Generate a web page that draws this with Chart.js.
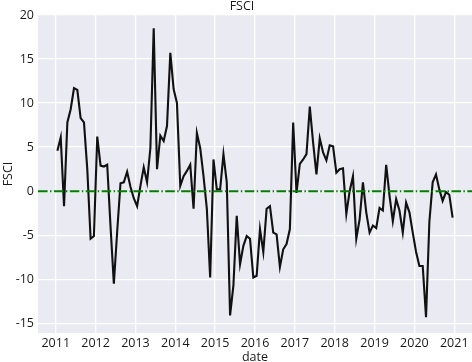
<!DOCTYPE html>
<html>
<head>
<meta charset="utf-8">
<script src="https://cdn.jsdelivr.net/npm/chart.js@4"></script>
<style>
  body { margin: 0; background: #fff; }
  #wrap { width: 472px; height: 362px; }
</style>
</head>
<body>
<div id="wrap"><canvas id="fsciChart" width="472" height="362"></canvas></div>
<script>
// monthly FSCI values, Jan 2011 .. Dec 2020
const fsci = [
  4.6, 6.1, -1.7, 7.8, 9.3, 11.7, 11.5, 8.3, 7.8, 2.5, -5.4, -5.1,
  6.2, 2.9, 2.8, 3.0, -4.0, -10.5, -4.6, 0.9, 1.0, 2.2, 0.5, -0.8,
  -1.7, 0.6, 2.7, 1.0, 4.9, 18.5, 2.5, 6.3, 5.7, 7.4, 15.7, 11.6,
  10.0, 0.6, 1.7, 2.3, 3.0, -2.0, 6.6, 4.9, 1.7, -2.0, -9.8, 3.6,
  0.2, 0.2, 4.2, 1.0, -14.1, -10.7, -2.8, -8.3, -6.2, -5.1, -5.4, -9.8,
  -9.6, -4.3, -6.9, -2.0, -1.7, -4.7, -4.9, -8.6, -6.6, -6.0, -4.3, 7.8,
  -0.2, 3.1, 3.6, 4.2, 9.6, 5.5, 1.9, 6.0, 4.4, 3.5, 5.2, 5.1,
  2.1, 2.5, 2.6, -2.6, 0.0, 1.7, -5.4, -3.2, 1.0, -2.4, -4.7, -3.9,
  -4.2, -1.9, -2.2, 3.0, -0.5, -3.4, -0.9, -2.2, -4.7, -1.3, -2.4, -4.7,
  -6.9, -8.5, -8.5, -14.3, -3.5, 1.0, 1.9, 0.2, -1.1, -0.1, -0.4, -3.0
];
const startYear = 2011;
// mid-month dates as decimal years
const dates = fsci.map((v, i) => startYear + (i + 0.5) / 12);
const yearTicks = [2011, 2012, 2013, 2014, 2015, 2016, 2017, 2018, 2019, 2020, 2021];
const yTicks = [-15, -10, -5, 0, 5, 10, 15, 20];
const refLevel = 0;

const xMin = 2010.555, xMax = 2021.445;
const textColor = '#1a1a1a';
const font = { family: "'Open Sans', 'DejaVu Sans', sans-serif", size: 12.5, weight: 'normal' };

const plotBg = {
  id: 'plotBg',
  beforeDraw(chart) {
    const { ctx, chartArea: a } = chart;
    ctx.save();
    ctx.fillStyle = '#eaeaf2';
    ctx.fillRect(a.left, a.top, a.right - a.left, a.bottom - a.top);
    ctx.restore();
  }
};

// title sits over the axes a bit right of the canvas centre
const chartTitle = {
  id: 'chartTitle',
  afterDraw(chart) {
    const ctx = chart.ctx;
    ctx.save();
    ctx.font = "12.5px 'Open Sans', 'DejaVu Sans', sans-serif";
    ctx.fillStyle = textColor;
    ctx.textAlign = 'center';
    ctx.textBaseline = 'middle';
    ctx.fillText('FSCI', 242, 6.5);
    ctx.restore();
  }
};

new Chart(document.getElementById('fsciChart'), {
  type: 'line',
  data: {
    datasets: [{
      label: 'FSCI',
      data: dates.map((d, i) => ({ x: d, y: fsci[i] })),
      borderColor: '#111111',
      borderWidth: 2.1,
      pointRadius: 0,
      tension: 0,
      order: 1
    }, {
      label: 'zero',
      data: [{ x: xMin, y: refLevel }, { x: xMax, y: refLevel }],
      borderColor: '#008000',
      borderWidth: 2,
      borderDash: [9.6, 2.4, 1.5, 2.4],
      pointRadius: 0,
      order: 0
    }]
  },
  options: {
    responsive: false,
    animation: false,
    layout: { padding: { left: 0, right: 0, top: 15, bottom: 0 } },
    plugins: {
      legend: { display: false },
      tooltip: { enabled: false },
      title: { display: false }
    },
    scales: {
      x: {
        type: 'linear',
        min: xMin,
        max: xMax,
        afterBuildTicks: s => { s.ticks = yearTicks.map(v => ({ value: v })); },
        afterFit: s => { s.height = 29; },
        grid: { color: '#ffffff', lineWidth: 1.3, drawTicks: false },
        border: { display: false },
        ticks: {
          color: textColor, font: font, padding: 3, maxRotation: 0,
          callback: v => String(v)
        },
        title: {
          display: true, text: 'date', color: textColor, font: font,
          padding: { top: 0, bottom: -3 }
        }
      },
      y: {
        min: -16.1,
        max: 20,
        afterBuildTicks: s => { s.ticks = yTicks.map(v => ({ value: v })); },
        afterFit: s => { s.width = 38; },
        grid: { color: '#ffffff', lineWidth: 1.3, drawTicks: false },
        border: { display: false },
        ticks: {
          color: textColor, font: font, padding: 4,
          callback: v => String(v)
        },
        title: {
          display: true, text: 'FSCI', color: textColor, font: font,
          padding: { top: 1, bottom: 0 }
        }
      }
    }
  },
  plugins: [plotBg, chartTitle]
});
</script>
</body>
</html>
